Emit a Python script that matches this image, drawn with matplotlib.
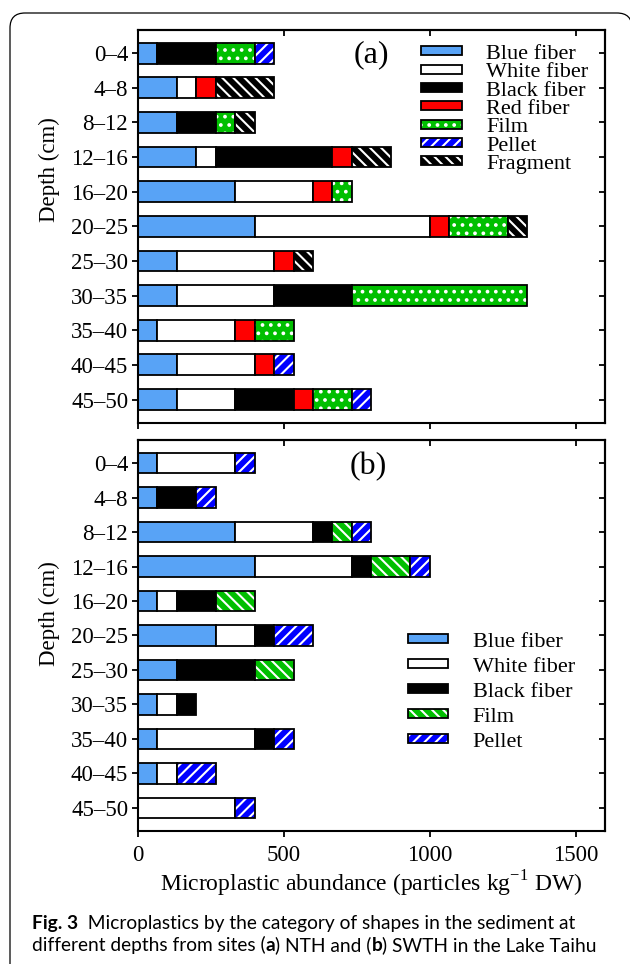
import numpy as np
import matplotlib
matplotlib.use('Agg')
import matplotlib.pyplot as plt
from matplotlib.patches import Patch, PathPatch
from matplotlib.path import Path
from matplotlib.legend_handler import HandlerTuple
from matplotlib.transforms import IdentityTransform
from matplotlib import font_manager

plt.rcParams['font.family'] = ['Liberation Serif', 'DejaVu Serif']
plt.rcParams['hatch.linewidth'] = 1.5

depths = ['0–4', '4–8', '8–12', '12–16', '16–20', '20–25',
          '25–30', '30–35', '35–40', '40–45', '45–50']

# (a) NTH, particles kg-1 DW
a_blue = [66.7, 133.3, 133.3, 200, 333.3, 400, 133.3, 133.3, 66.7, 133.3, 133.3]
a_white = [0, 66.7, 0, 66.7, 266.7, 600, 333.3, 333.3, 266.7, 266.7, 200]
a_black = [200, 0, 133.3, 400, 0, 0, 0, 266.7, 0, 0, 200]
a_red = [0, 66.7, 0, 66.7, 66.7, 66.7, 66.7, 0, 66.7, 66.7, 66.7]
a_film = [133.3, 0, 66.7, 0, 66.7, 200, 0, 600, 133.3, 0, 133.3]
a_pellet = [66.7, 0, 0, 0, 0, 0, 0, 0, 0, 66.7, 66.7]
a_fragment = [0, 200, 66.7, 133.3, 0, 66.7, 66.7, 0, 0, 0, 0]

# (b) SWTH
b_blue = [66.7, 66.7, 333.3, 400, 66.7, 266.7, 133.3, 66.7, 66.7, 66.7, 0]
b_white = [266.7, 0, 266.7, 333.3, 66.7, 133.3, 0, 66.7, 333.3, 66.7, 333.3]
b_black = [0, 133.3, 66.7, 66.7, 133.3, 66.7, 266.7, 66.7, 66.7, 0, 0]
b_film = [0, 0, 66.7, 133.3, 133.3, 0, 133.3, 0, 0, 0, 0]
b_pellet = [66.7, 66.7, 66.7, 66.7, 0, 133.3, 0, 0, 66.7, 133.3, 66.7]

a_names = ['Blue fiber', 'White fiber', 'Black fiber', 'Red fiber', 'Film', 'Pellet', 'Fragment']
b_names = ['Blue fiber', 'White fiber', 'Black fiber', 'Film', 'Pellet']

light_blue = '#58a3f6'
green = '#00bf00'
a_styles = [(light_blue, None), ('white', None), ('black', None), ('#ff0000', None),
            (green, '..'), ('#0000ff', '///'), ('black', '\\\\\\')]
b_styles = [(light_blue, None), ('white', None), ('black', None),
            (green, '\\\\\\'), ('#0000ff', '///')]

fs = 16.5


def stacked(ax, series, styles):
    y = np.arange(len(depths))
    left = np.zeros(len(depths))
    for vals, (color, hatch) in zip(series, styles):
        vals = np.array(vals, dtype=float)
        m = vals > 0
        ax.barh(y[m], vals[m], left=left[m], height=0.6, color=color, hatch=hatch,
                edgecolor='white', linewidth=0)
        ax.barh(y[m], vals[m], left=left[m], height=0.6, fill=False,
                edgecolor='black', linewidth=1.3)
        left += vals


def legend_handles(styles):
    return [(Patch(facecolor=c, hatch=h, edgecolor='white', linewidth=0),
             Patch(fill=False, edgecolor='black', linewidth=1.3)) for c, h in styles]


def style_axes(ax, show_xlabels):
    ax.set_xlim(0, 1600)
    ax.set_ylim(10.67, -0.67)
    ax.set_xticks([0, 500, 1000, 1500])
    ax.set_yticks(np.arange(len(depths)), depths)
    for s in ax.spines.values():
        s.set_linewidth(1.5)
    ax.tick_params(direction='out', length=4, width=1.3, labelsize=fs, pad=3)
    ax.tick_params(axis='x', pad=6, labelbottom=show_xlabels)
    top = ax.secondary_xaxis('top')
    top.set_xticks([0, 500, 1000, 1500])
    top.tick_params(direction='in', length=4, width=1.3, labeltop=False)
    top.spines['top'].set_linewidth(1.5)
    right = ax.secondary_yaxis('right')
    right.set_yticks(np.arange(len(depths)))
    right.tick_params(direction='in', length=4, width=1.3, labelright=False)
    right.spines['right'].set_linewidth(1.5)
    ax.set_ylabel('Depth (cm)', fontsize=fs)


fig = plt.figure(figsize=(6.3, 9.64), dpi=100)
ax1 = fig.add_axes([0.219, 0.5615, 0.741, 0.4074])
ax2 = fig.add_axes([0.219, 0.1380, 0.741, 0.4056])

stacked(ax1, [a_blue, a_white, a_black, a_red, a_film, a_pellet, a_fragment], a_styles)
stacked(ax2, [b_blue, b_white, b_black, b_film, b_pellet], b_styles)

style_axes(ax1, False)
style_axes(ax2, True)
ax1.yaxis.set_label_coords(-0.167, 0.645)
ax2.yaxis.set_label_coords(-0.167, 0.555)
ax2.set_xlabel('Microplastic abundance (particles kg$^{\\mathregular{-1}}$ DW)', fontsize=17, labelpad=2)

ax1.text(0.499, 0.936, '(a)', transform=ax1.transAxes, fontsize=23, ha='center', va='center')
ax2.text(0.4925, 0.933, '(b)', transform=ax2.transAxes, fontsize=23, ha='center', va='center')

ax1.legend(legend_handles(a_styles), a_names, handler_map={tuple: HandlerTuple(ndivide=1)},
           loc='upper left', bbox_to_anchor=(0.607, 0.962), frameon=False, fontsize=16,
           borderpad=0, borderaxespad=0, labelspacing=-0.03, handlelength=1.83,
           handleheight=0.25, handletextpad=1.1)
ax2.legend(legend_handles(b_styles), b_names, handler_map={tuple: HandlerTuple(ndivide=1)},
           loc='upper left', bbox_to_anchor=(0.5775, 0.507), frameon=False, fontsize=16,
           borderpad=0, borderaxespad=0, labelspacing=0.27, handlelength=1.83,
           handleheight=0.25, handletextpad=1.1)

# caption, in a sans family that has a bold face
entries = font_manager.fontManager.ttflist


def has_bold(fam):
    for f in entries:
        w = f.weight
        if isinstance(w, str):
            w = font_manager.weight_dict.get(w, 400)
        if f.name == fam and w >= 600:
            return True
    return False


cap_family = 'DejaVu Sans'
for fam in ['Liberation Sans Narrow', 'Lato', 'Roboto', 'Noto Sans', 'Open Sans', 'Liberation Sans']:
    if has_bold(fam):
        cap_family = fam
        break
cap_size = 12.5
cap_texts = []


def caption_line(x, y, parts):
    w0 = 'bold' if parts[0][1] else 'normal'
    t = fig.text(x, y, parts[0][0], family=cap_family, fontsize=cap_size,
                 fontweight=w0, va='bottom', ha='left')
    line = [t]
    for s, bold in parts[1:]:
        t = ax2.annotate(s, xy=(1, 0), xycoords=t, va='bottom', ha='left',
                         family=cap_family, fontsize=cap_size,
                         fontweight='bold' if bold else 'normal', annotation_clip=False)
        line.append(t)
    cap_texts.extend(line)
    return line


line1 = caption_line(0.0508, 0.0337, [('Fig. 3', True),
                                      ('  Microplastics by the category of shapes in the sediment at', False)])
caption_line(0.0508, 0.0099, [('different depths from sites (', False), ('a', True),
                              (') NTH and (', False), ('b', True),
                              (') SWTH in the Lake Taihu', False)])

# fit the caption width to the reference line length
fig.canvas.draw()
r = fig.canvas.get_renderer()
w = line1[-1].get_window_extent(r).x1 - line1[0].get_window_extent(r).x0
for t in cap_texts:
    t.set_fontsize(cap_size * 545.0 / w)

# rounded frame, left and top sides
R = 15
verts = [(10, -10), (10, 951 - R), (10, 951), (10 + R, 951), (632 - R, 951), (632, 951), (632, 951 - R)]
codes = [Path.MOVETO, Path.LINETO, Path.CURVE3, Path.CURVE3, Path.LINETO, Path.CURVE3, Path.CURVE3]
fig.add_artist(PathPatch(Path(verts, codes), transform=IdentityTransform(), fill=False,
                         edgecolor='black', linewidth=0.9))

fig.savefig('out.png', dpi=100)
